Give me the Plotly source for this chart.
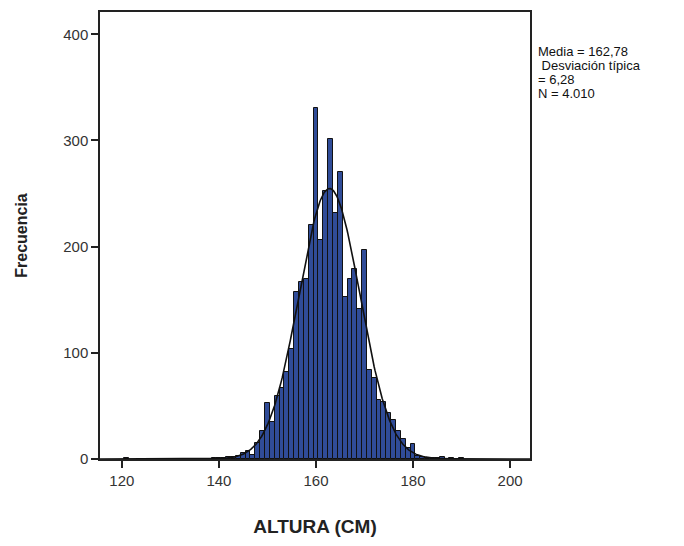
import numpy as np
import plotly.graph_objects as go

# Histogram data (bin centers in cm, 1-cm bins) and frequencies
heights = [121, 139, 140, 141, 142, 143, 144, 145, 146, 147, 148, 149,
           150, 151, 152, 153, 154, 155, 156, 157, 158, 159,
           160, 161, 162, 163, 164, 165, 166, 167, 168, 169,
           170, 171, 172, 173, 174, 175, 176, 177, 178, 179,
           180, 181, 182, 183, 184, 185, 186, 188, 190]
counts = [1, 1, 1, 1, 2, 2, 3, 6, 8, 4, 15, 26,
          53, 35, 59, 67, 82, 104, 157, 167, 170, 220,
          331, 206, 252, 301, 232, 270, 153, 170, 179, 141,
          197, 84, 76, 56, 54, 43, 37, 26, 19, 10,
          14, 3, 2, 1, 1, 1, 2, 1, 1]

MEAN = 162.78
SD = 6.28
N = 4010
BIN_WIDTH = 1.0

x_ticks = [120, 140, 160, 180, 200]
y_ticks = [0, 100, 200, 300, 400]

stats_lines = ["Media = 162,78", " Desviación típica", "= 6,28", "N = 4.010"]

x_range = [115.5, 204.1]
y_range = [0, 421]

# Fitted normal curve from the reported statistics
xc = np.linspace(x_range[0], x_range[1], 600)
yc = N * BIN_WIDTH / (SD * np.sqrt(2 * np.pi)) * np.exp(-0.5 * ((xc - MEAN) / SD) ** 2)

fig = go.Figure()
fig.add_trace(go.Bar(
    x=heights, y=counts, width=BIN_WIDTH,
    marker=dict(color="#304C98", line=dict(color="#111111", width=1)),
    hoverinfo="x+y", showlegend=False,
))
fig.add_trace(go.Scatter(
    x=xc, y=yc, mode="lines",
    line=dict(color="#111111", width=1.6),
    hoverinfo="skip", showlegend=False,
))

fig.update_layout(
    width=684, height=546,
    margin=dict(l=100, r=154, t=10, b=87),
    paper_bgcolor="white", plot_bgcolor="white",
    bargap=0,
    font=dict(family="Liberation Sans, Arial, sans-serif", color="#222222"),
    xaxis=dict(
        range=x_range, tickvals=x_ticks, ticktext=[str(v) for v in x_ticks],
        showline=True, linecolor="#222222", linewidth=1.5, mirror=True,
        ticks="outside", ticklen=7, tickwidth=1.5, tickcolor="#222222",
        showgrid=False, zeroline=False,
        tickfont=dict(size=15, color="#333333"),
        title=dict(text="<b>ALTURA (CM)</b>", font=dict(size=19, color="#222222"), standoff=32),
    ),
    yaxis=dict(
        range=y_range, tickvals=y_ticks, ticktext=[str(v) for v in y_ticks],
        showline=True, linecolor="#222222", linewidth=1.5, mirror=True,
        ticks="outside", ticklen=7, tickwidth=1.5, tickcolor="#222222",
        showgrid=False, zeroline=False,
        tickfont=dict(size=15, color="#333333"),
        title=dict(text="<b>Frecuencia</b>", font=dict(size=16, color="#222222"), standoff=32),
    ),
)

# Statistics box lines, closely spaced like the original
plot_top_px, plot_h_px = 10, 449
for i, line in enumerate(stats_lines):
    ypix = 50 + 14 * i
    fig.add_annotation(
        xref="paper", yref="paper", x=1.0, y=(plot_top_px + plot_h_px - ypix) / plot_h_px,
        xshift=6, xanchor="left", yanchor="middle", align="left",
        text=line.replace(" ", "&nbsp;", 1) if line.startswith(" ") else line,
        showarrow=False,
        font=dict(family="Liberation Sans Narrow, Arial Narrow, sans-serif", size=13, color="#111111"),
    )

fig.write_html("out.html")
